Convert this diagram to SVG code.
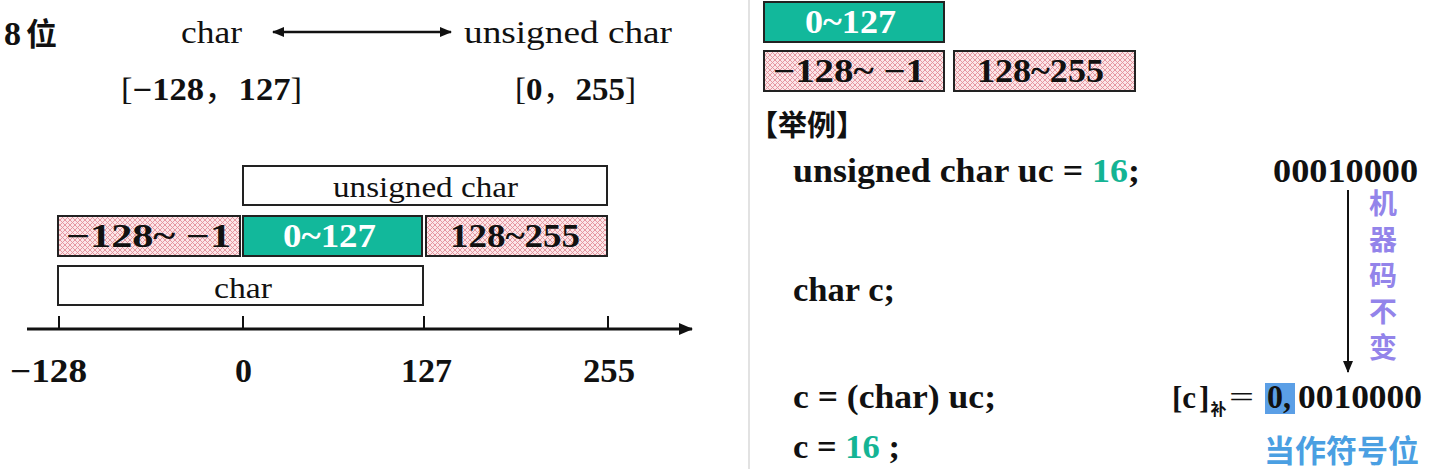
<svg xmlns="http://www.w3.org/2000/svg" width="1440" height="469" viewBox="0 0 1440 469">
<style>
.s{font-family:"Liberation Serif","Noto Sans CJK SC",serif;fill:#111}
.b{font-weight:bold}
.cjk{font-family:"Noto Sans CJK SC",sans-serif;font-weight:bold}
.box{stroke:#222;stroke-width:2}
.hat{fill:url(#hatch)}
.grn{fill:#12b89b}
.wh{fill:#fff}
.teal{fill:#14b494}
</style>
<defs>
<pattern id="hatch" width="5" height="5" patternUnits="userSpaceOnUse">
<rect width="5" height="5" fill="#fbe6e8"/>
<path d="M0,0 L5,5 M5,0 L0,5" stroke="#e3909a" stroke-width="0.9"/>
</pattern>
<marker id="ah" viewBox="0 0 12 10" refX="11" refY="5" markerWidth="12" markerHeight="10" markerUnits="userSpaceOnUse" orient="auto-start-reverse">
<path d="M0,0 L12,5 L0,10 Z" fill="#111"/>
</marker>
<marker id="ah2" viewBox="0 0 14 12" refX="13" refY="6" markerWidth="14" markerHeight="12" markerUnits="userSpaceOnUse" orient="auto">
<path d="M0,0 L14,6 L0,12 Z" fill="#111"/>
</marker>
</defs>
<rect width="1440" height="469" fill="#fff"/>

<g id="title">
<text class="s b" x="4" y="45" font-size="34">8<tspan class="cjk" font-size="31" dx="5">位</tspan></text>
</g>
<g id="char-label"><text class="s" x="181" y="43" font-size="32" textLength="61" lengthAdjust="spacingAndGlyphs">char</text></g>
<g id="uchar-label"><text class="s" x="464" y="43" font-size="32" textLength="208" lengthAdjust="spacingAndGlyphs">unsigned char</text></g>
<g id="char-range"><text class="s" x="121" y="100" font-size="31" textLength="181" lengthAdjust="spacingAndGlyphs">[<tspan class="b">−128</tspan>，<tspan class="b">127</tspan>]</text></g>
<g id="uchar-range"><text class="s" x="515" y="100" font-size="31" textLength="121" lengthAdjust="spacingAndGlyphs">[<tspan class="b">0</tspan>，<tspan class="b">255</tspan>]</text></g>

<g id="box-uchar">
<rect class="box wh" x="243" y="166" width="364" height="39"/>
<text class="s" x="333" y="197" font-size="30" textLength="185" lengthAdjust="spacingAndGlyphs">unsigned char</text>
</g>
<g id="box-neg">
<rect class="box hat" x="58" y="216" width="182" height="40"/>
<text class="s b" x="66" y="247" font-size="33" textLength="165" lengthAdjust="spacingAndGlyphs">−128~ −1</text>
</g>
<g id="box-pos">
<rect class="box grn" x="243" y="216" width="179" height="40"/>
<text class="s b" x="283" y="247" font-size="33" style="fill:#fff" textLength="93" lengthAdjust="spacingAndGlyphs">0~127</text>
</g>
<g id="box-high">
<rect class="box hat" x="426" y="216" width="181" height="40"/>
<text class="s b" x="450" y="247" font-size="33" textLength="130" lengthAdjust="spacingAndGlyphs">128~255</text>
</g>
<g id="box-char">
<rect class="box wh" x="58" y="266" width="365" height="39"/>
<text class="s" x="214" y="298" font-size="30" textLength="58" lengthAdjust="spacingAndGlyphs">char</text>
</g>

<g id="axis-labels">
<text class="s b" x="10" y="382" font-size="33" textLength="77" lengthAdjust="spacingAndGlyphs">−128</text>
<text class="s b" x="235" y="382" font-size="33" textLength="17" lengthAdjust="spacingAndGlyphs">0</text>
<text class="s b" x="401" y="382" font-size="33" textLength="51" lengthAdjust="spacingAndGlyphs">127</text>
<text class="s b" x="583" y="382" font-size="33" textLength="52" lengthAdjust="spacingAndGlyphs">255</text>
</g>

<g id="r-green">
<rect class="box grn" x="764" y="2" width="180" height="40"/>
<text class="s b" x="805" y="33" font-size="33" style="fill:#fff" textLength="91" lengthAdjust="spacingAndGlyphs">0~127</text>
</g>
<g id="r-neg">
<rect class="box hat" x="764" y="51" width="180" height="40"/>
<text class="s b" x="773" y="82" font-size="33" textLength="152" lengthAdjust="spacingAndGlyphs">−128~ −1</text>
</g>
<g id="r-high">
<rect class="box hat" x="954" y="51" width="181" height="40"/>
<text class="s b" x="977" y="82" font-size="33" textLength="127" lengthAdjust="spacingAndGlyphs">128~255</text>
</g>
<g id="example-title"><text class="cjk" x="749" y="136" font-size="29" fill="#111">【举例】</text></g>

<g id="line1">
<text class="s b" x="793" y="182" font-size="33" textLength="347" lengthAdjust="spacingAndGlyphs">unsigned char uc = <tspan class="teal">16</tspan>;</text>
<text class="s b" x="1273" y="182" font-size="33" textLength="145" lengthAdjust="spacingAndGlyphs">00010000</text>
</g>
<g id="line2"><text class="s b" x="793" y="301" font-size="33" textLength="102" lengthAdjust="spacingAndGlyphs">char c;</text></g>
<g id="line3">
<text class="s b" x="793" y="408" font-size="33" textLength="203" lengthAdjust="spacingAndGlyphs">c = (char) uc;</text>
<text class="s b" x="1172" y="408" font-size="31">[c<tspan dx="3">]</tspan><tspan class="cjk" font-size="16" dx="1" dy="7">补</tspan></text>
<text class="s" x="1229" y="407" font-size="30" textLength="25" lengthAdjust="spacingAndGlyphs">=</text>
<rect x="1265" y="383" width="30" height="31" fill="#5b9fe6"/>
<text class="s b" x="1267" y="408" font-size="33" textLength="24" lengthAdjust="spacingAndGlyphs">0,</text>
<text class="s b" x="1298" y="408" font-size="33" textLength="124" lengthAdjust="spacingAndGlyphs">0010000</text>
</g>
<g id="line4"><text class="s b" x="793" y="458" font-size="33" textLength="107" lengthAdjust="spacingAndGlyphs">c = <tspan class="teal">16</tspan> ;</text></g>
<g id="note-machine">
<text class="cjk" x="1383" y="189" font-size="28" fill="#9384ea" writing-mode="vertical-rl" letter-spacing="8">机器码不变</text>
</g>
<g id="note-sign"><text class="cjk" x="1264" y="462" font-size="31" fill="#4a9fe2">当作符号位</text></g>

<g id="connectors">
<line x1="749" y1="0" x2="749" y2="469" stroke="#e2e2e2" stroke-width="2"/>
<line x1="273" y1="32" x2="451" y2="32" stroke="#111" stroke-width="2.5" marker-start="url(#ah)" marker-end="url(#ah)"/>
<line x1="27" y1="329" x2="692" y2="329" stroke="#111" stroke-width="3" marker-end="url(#ah2)"/>
<path d="M59,316 V329 M243,316 V329 M424,316 V329 M608,316 V329" stroke="#111" stroke-width="2"/>
<line x1="1348" y1="190" x2="1348" y2="372" stroke="#111" stroke-width="2" marker-end="url(#ah)"/>
</g>
</svg>
